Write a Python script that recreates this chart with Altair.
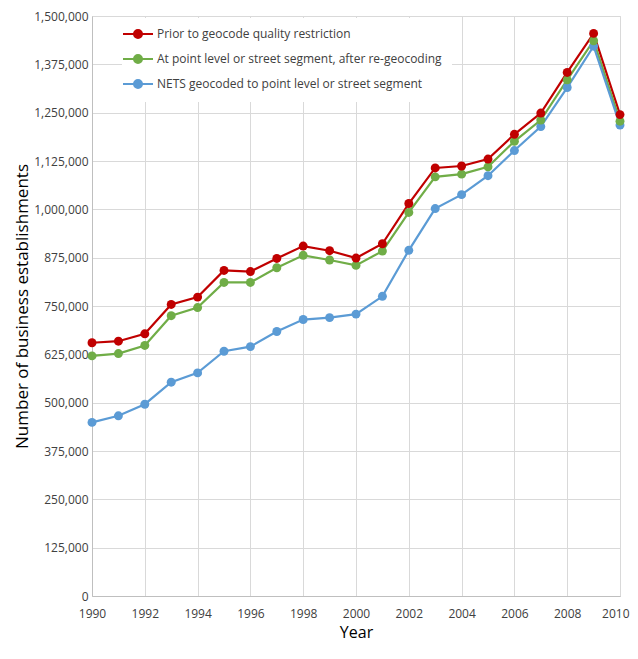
import altair as alt
import pandas as pd

years = list(range(1990, 2011))
series_names = [
    "Prior to geocode quality restriction",
    "At point level or street segment, after re-geocoding",
    "NETS geocoded to point level or street segment",
]
prior = [655000, 659000, 678000, 754000, 773000, 842000, 839000, 873000, 905000, 893000,
         874000, 911000, 1015000, 1107000, 1112000, 1130000, 1194000, 1249000, 1354000, 1455000, 1245000]
regeo = [621000, 627000, 648000, 725000, 746000, 811000, 811000, 849000, 881000, 869000,
         855000, 892000, 992000, 1084000, 1091000, 1110000, 1176000, 1231000, 1335000, 1436000, 1228000]
nets = [449000, 466000, 496000, 553000, 577000, 633000, 645000, 684000, 715000, 720000,
        729000, 775000, 894000, 1002000, 1038000, 1087000, 1152000, 1214000, 1315000, 1422000, 1218000]
colors = ["#C00000", "#70AD47", "#5B9BD5"]
y_ticks = list(range(0, 1500001, 125000))
x_ticks = list(range(1990, 2011, 2))

rows = []
for name, vals, order in zip(series_names, [prior, regeo, nets], [2, 1, 0]):
    for yr, v in zip(years, vals):
        rows.append({"Year": yr, "Value": v, "Series": name, "order": order})
df = pd.DataFrame(rows)

FONT = "Open Sans"

color = alt.Color(
    "Series:N",
    scale=alt.Scale(domain=series_names, range=colors),
    legend=alt.Legend(
        title=None,
        orient="none",
        legendX=30,
        legendY=2,
        fillColor="white",
        padding=10,
        symbolType="M-3,0L3,0M0.8,0A0.8,0.8,0,1,1,-0.8,0A0.8,0.8,0,1,1,0.8,0Z",
        symbolSize=100,
        symbolStrokeWidth=2,
        labelFontSize=12,
        labelFont=FONT,
        labelColor="#404040",
        rowPadding=9,
        labelOffset=13,
        labelLimit=400,
    ),
)

base = alt.Chart(df).encode(
    x=alt.X("Year:Q", scale=alt.Scale(domain=[1990, 2010], nice=False),
            axis=alt.Axis(values=x_ticks, format="d", title="Year", labelPadding=12,
                          titlePadding=5, labelFlush=False, titleFontSize=16,
                          labelAlign=alt.expr("datum.value >= 2010 ? 'right' : 'center'"),
                          labelOffset=alt.expr("datum.value >= 2010 ? 9 : 0"))),
    y=alt.Y("Value:Q", scale=alt.Scale(domain=[0, 1500000], nice=False),
            axis=alt.Axis(values=y_ticks, format=",d", title="Number of business establishments",
                          labelPadding=4, titlePadding=2, titleFontSize=17)),
    color=color,
    order=alt.Order("order:Q"),
)

lines = base.mark_line(strokeWidth=2.2)
points = base.mark_point(filled=True, size=80, opacity=1)

chart = (lines + points).properties(
    width=528,
    height=580,
    autosize=alt.AutoSizeParams(type="none"),
    padding={"left": 84, "top": 8, "right": 10, "bottom": 55},
).configure_view(stroke="#D9D9D9").configure_axis(
    grid=True,
    gridColor="#D9D9D9",
    gridWidth=1,
    domainColor="#BFBFBF",
    ticks=False,
    labelFont=FONT,
    labelFontSize=12,
    labelColor="#404040",
    titleFont=FONT,
    titleFontWeight="normal",
    titleColor="#000000",
)

chart.save("out.html", embed_options={"renderer": "svg", "actions": False})
